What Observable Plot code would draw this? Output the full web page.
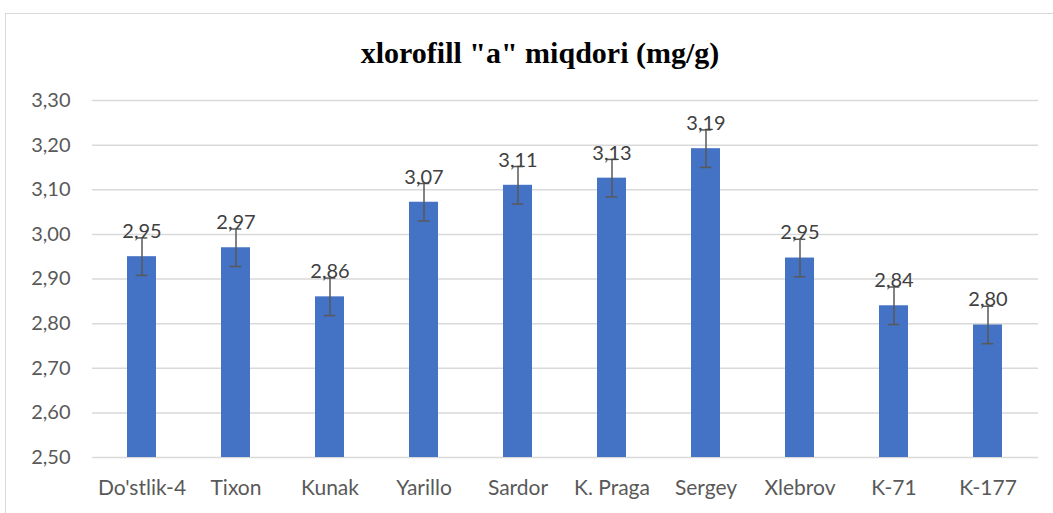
<!DOCTYPE html>
<html>
<head>
<meta charset="utf-8">
<script src="https://cdn.jsdelivr.net/npm/d3@7"></script>
<script src="https://cdn.jsdelivr.net/npm/@observablehq/plot@0.6"></script>
<style>
  html, body { margin: 0; padding: 0; background: #fff; overflow: hidden; }
  #wrap { position: relative; width: 1053px; height: 513px; overflow: hidden; }
  #border { position: absolute; left: 5px; top: 13px; width: 1100px; height: 560px; border: 1px solid #d9d9d9; box-sizing: border-box; }
  #title { position: absolute; left: 0; width: 1080px; top: 34px; text-align: center; font-family: "Liberation Serif", "Times New Roman", serif; font-weight: bold; font-size: 30px; color: #000; line-height: 38px; }
  #chart { position: absolute; left: 0; top: 80px; }
  #chart svg g[aria-label="x-axis tick label"] text { font-size: 21px; }
</style>
</head>
<body>
<div id="wrap">
  <div id="border"></div>
  <div id="title">xlorofill "a" miqdori (mg/g)</div>
  <div id="chart"></div>
</div>
<script>
const categories = ["Do'stlik-4", "Tixon", "Kunak", "Yarillo", "Sardor", "K. Praga", "Sergey", "Xlebrov", "K-71", "K-177"];
const values = [2.95, 2.97, 2.86, 3.072, 3.11, 3.126, 3.192, 2.947, 2.84, 2.797];
const errors = [0.042, 0.042, 0.042, 0.042, 0.042, 0.042, 0.042, 0.042, 0.042, 0.042];
const yTicks = [2.5, 2.6, 2.7, 2.8, 2.9, 3.0, 3.1, 3.2, 3.3];

const fmt = v => d3.format(".2f")(v).replace(".", ",");
const data = categories.map((c, i) => ({cat: c, v: values[i], e: errors[i]}));

const chart = Plot.plot({
  width: 1053,
  height: 433,
  marginTop: 20,
  marginBottom: 56,
  marginLeft: 92,
  marginRight: 15,
  style: {fontFamily: "Lato, sans-serif", fontSize: "20px", color: "#595959", background: "transparent"},
  x: {domain: categories, paddingInner: 0.69, paddingOuter: 0.345, label: null, tickSize: 0, tickPadding: 23},
  y: {domain: [2.5, 3.3], ticks: yTicks, tickFormat: fmt, label: null, tickSize: 0, tickPadding: 22},
  marks: [
    Plot.ruleY(yTicks, {stroke: "#d9d9d9", strokeWidth: 1.5}),
    Plot.barY(data, {x: "cat", y1: 2.5, y2: "v", fill: "#4472C4"}),
    Plot.ruleX(data, {x: "cat", y1: d => d.v - d.e, y2: d => d.v + d.e, stroke: "#595959", strokeWidth: 1.5}),
    Plot.tickY(data, {x: "cat", y: d => d.v - d.e, stroke: "#595959", strokeWidth: 1.5, insetLeft: 8.7, insetRight: 8.7}),
    Plot.tickY(data, {x: "cat", y: d => d.v + d.e, stroke: "#595959", strokeWidth: 1.5, insetLeft: 8.7, insetRight: 8.7}),
    Plot.text(data, {x: "cat", y: "v", text: d => fmt(d.v), dy: -25, fill: "#404040", fontSize: 20})
  ]
});
document.getElementById("chart").appendChild(chart);
</script>
</body>
</html>
